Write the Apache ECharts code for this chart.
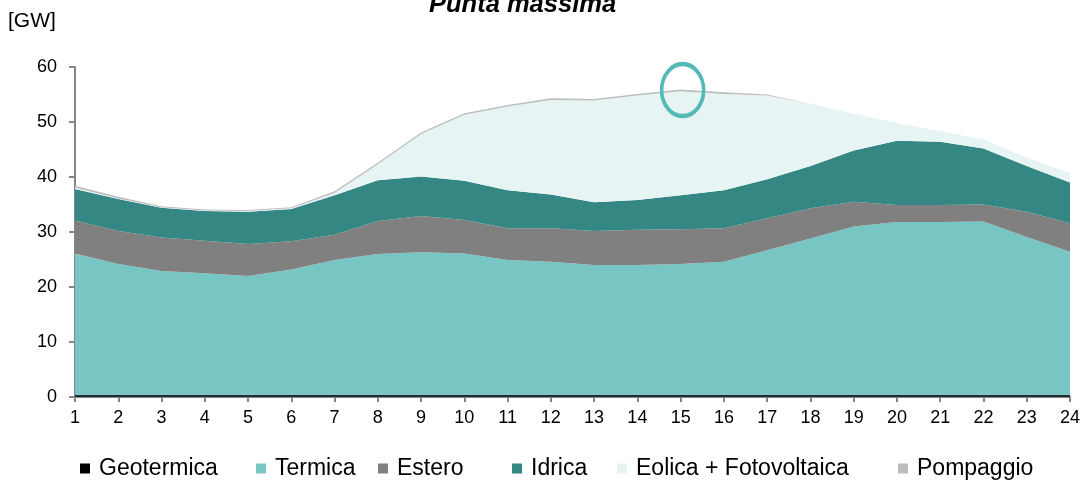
<!DOCTYPE html>
<html>
<head>
<meta charset="utf-8">
<script src="https://cdn.jsdelivr.net/npm/echarts@6/dist/echarts.min.js"></script>
<style>
  html, body { margin: 0; padding: 0; background: #fff; }
  #chart { width: 1083px; height: 482px; }
</style>
</head>
<body>
<div id="chart"></div>
<script>
// hours of the day
var hours = ['1','2','3','4','5','6','7','8','9','10','11','12','13','14','15','16','17','18','19','20','21','22','23','24'];

// GW per source
var geotermica = [0.4,0.4,0.4,0.4,0.4,0.4,0.4,0.4,0.4,0.4,0.4,0.4,0.4,0.4,0.4,0.4,0.4,0.4,0.4,0.4,0.4,0.4,0.4,0.4];
var termica = [25.7,23.8,22.5,22.1,21.6,22.8,24.5,25.6,25.9,25.7,24.5,24.2,23.6,23.6,23.8,24.2,26.3,28.4,30.6,31.4,31.4,31.5,28.7,26.0];
var estero = [6.0,6.0,6.1,5.9,5.8,5.1,4.6,6.0,6.6,6.1,5.8,6.1,6.2,6.4,6.3,6.1,5.8,5.5,4.5,3.1,3.1,3.1,4.6,5.2];
var idrica = [5.7,5.8,5.4,5.4,5.9,5.9,7.2,7.4,7.2,7.1,6.9,6.1,5.2,5.4,6.2,6.9,7.1,7.7,9.3,11.7,11.5,10.2,8.3,7.4];
var eolicaFv = [0.3,0.1,0.1,0.1,0.1,0.1,0.4,2.9,7.7,12.0,15.2,17.2,18.5,19.0,18.9,17.5,15.2,11.3,6.7,3.2,1.9,1.6,1.5,1.7];
var pompaggio = [0.3,0.3,0.2,0.2,0.2,0.2,0.3,0.3,0.3,0.3,0.3,0.3,0.3,0.3,0.3,0.3,0.2,0,0,0,0,0,0,0];

var yTicks = [0, 60, 10]; // min, max, step
var peakHour = '15';
var peakValue = 55.8;

var myChart = echarts.init(document.getElementById('chart'));

function areaSeries(name, data, color) {
  return {
    name: name,
    type: 'line',
    stack: 'tot',
    data: data,
    showSymbol: false,
    symbol: 'none',
    lineStyle: { width: 0 },
    areaStyle: { color: color, opacity: 1 },
    itemStyle: { color: color },
    animation: false
  };
}

function legendAt(name, left, color) {
  return {
    data: [{ name: name, itemStyle: { color: color } }],
    left: left,
    top: 457,
    icon: 'rect',
    itemWidth: 10,
    itemHeight: 10,
    itemGap: 0,
    padding: 0,
    selectedMode: false,
    textStyle: { fontFamily: 'Liberation Sans', fontSize: 23, color: '#000', lineHeight: 23, padding: [0, 0, 0, 4] }
  };
}

var series = [
  areaSeries('Geotermica', geotermica, '#1a2e38'),
  areaSeries('Termica', termica, '#77c6c3'),
  areaSeries('Estero', estero, '#808080'),
  areaSeries('Idrica', idrica, '#358784'),
  areaSeries('Eolica + Fotovoltaica', eolicaFv, '#e6f4f3'),
  areaSeries('Pompaggio', pompaggio, '#bdbdbd')
];

// peak marker
series[5].markPoint = {
  silent: true,
  animation: false,
  symbol: 'circle',
  symbolSize: [42, 52],
  symbolOffset: [2, 0],
  itemStyle: { color: 'rgba(0,0,0,0)', borderColor: '#52b9b4', borderWidth: 4 },
  label: { show: false },
  data: [{ coord: [peakHour, peakValue] }]
};

var option = {
  backgroundColor: '#fff',
  animation: false,
  title: {
    text: 'Punta massima',
    left: 424,
    top: -13,
    textStyle: { fontFamily: 'Liberation Sans', fontSize: 25.5, fontWeight: 'bold', fontStyle: 'italic', color: '#000' }
  },
  graphic: [{
    type: 'text',
    left: 8,
    top: 11,
    style: { text: '[GW]', fontFamily: 'Liberation Sans', fontSize: 21, fill: '#000' }
  }],
  legend: [
    legendAt('Geotermica', 80, '#000'),
    legendAt('Termica', 256, '#77c6c3'),
    legendAt('Estero', 378, '#808080'),
    legendAt('Idrica', 512, '#358784'),
    legendAt('Eolica + Fotovoltaica', 617, '#e6f4f3'),
    legendAt('Pompaggio', 898, '#bdbdbd')
  ],
  grid: { left: 75, right: 11, top: 67, bottom: 85 },
  xAxis: {
    type: 'category',
    data: hours,
    boundaryGap: false,
    axisLine: { lineStyle: { color: '#868686', width: 2 } },
    axisTick: { show: true, length: 5, lineStyle: { color: '#868686', width: 2 } },
    axisLabel: { fontFamily: 'Liberation Sans', fontSize: 18, color: '#000', margin: 12, interval: 0 }
  },
  yAxis: {
    type: 'value',
    min: yTicks[0],
    max: yTicks[1],
    interval: yTicks[2],
    axisLine: { show: true, lineStyle: { color: '#868686', width: 2 } },
    axisTick: { show: true, length: 6, lineStyle: { color: '#868686', width: 2 } },
    axisLabel: { fontFamily: 'Liberation Sans', fontSize: 18, color: '#000', margin: 18 },
    splitLine: { show: false }
  },
  series: series
};

myChart.setOption(option);
</script>
</body>
</html>
